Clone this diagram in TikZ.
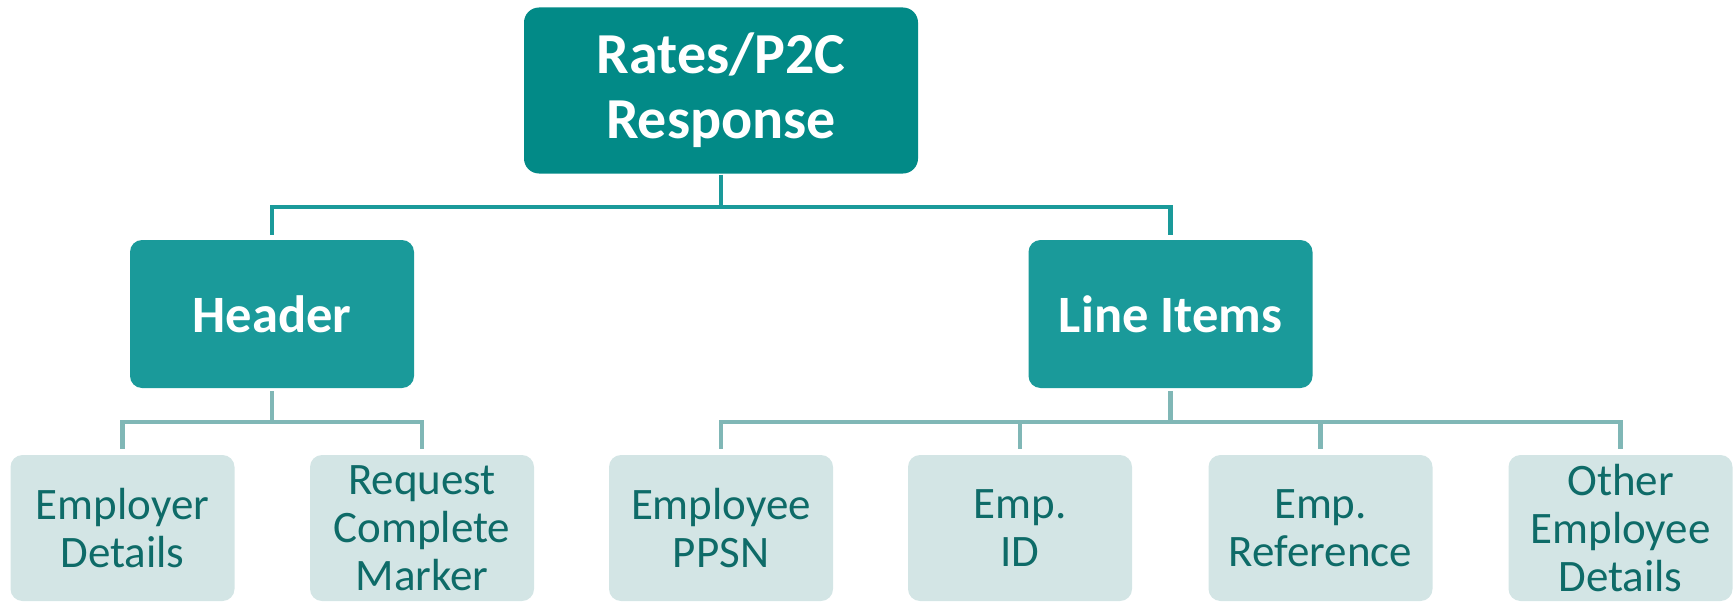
\documentclass[tikz,border=0pt]{standalone}
\usepackage{fontspec}
\setmainfont{Carlito}
\definecolor{topfill}{HTML}{028A87}
\definecolor{midfill}{HTML}{1A9A9A}
\definecolor{lowfill}{HTML}{D3E5E5}
\definecolor{lowtext}{HTML}{0E6B68}
\definecolor{lowline}{HTML}{80B7B6}
\tikzset{
  topbox/.style={rectangle, rounded corners=15pt, fill=topfill, text=white, align=center,
    minimum width=394pt, minimum height=166pt, inner sep=0pt,
    font=\fontsize{58}{65}\selectfont\bfseries},
  midbox/.style={rectangle, rounded corners=12pt, fill=midfill, text=white, align=center,
    minimum width=284pt, minimum height=148pt, inner sep=0pt,
    font=\fontsize{52.5}{60}\selectfont\bfseries},
  lowbox/.style={rectangle, rounded corners=12pt, fill=lowfill, text=lowtext, align=center,
    minimum width=224pt, minimum height=146pt, inner sep=0pt,
    font=\fontsize{45}{48}\selectfont},
  topconn/.style={draw=midfill, line width=4.5pt},
  lowconn/.style={draw=lowline, line width=4.5pt}
}
\begin{document}
\begin{tikzpicture}[x=1pt,y=-1pt]
\useasboundingbox (0,0) rectangle (1735,602);
\node[topbox] (top) at (721,90.5) {Rates/P2C\\Response};
\node[midbox] (hdr) at (272,314) {Header};
\node[midbox] (li) at (1170.5,314) {Line Items};
\node[lowbox] (b1) at (122.5,528) {Employer\\Details};
\node[lowbox] (b2) at (422,528) {Request\\Complete\\Marker};
\node[lowbox] (b3) at (721,528) {Employee\\PPSN};
\node[lowbox] (b4) at (1020,528) {Emp.\\ID};
\node[lowbox] (b5) at (1320.5,528) {Emp.\\Reference};
\node[lowbox] (b6) at (1620.5,528) {Other\\Employee\\Details};
\coordinate (tb) at (721,207);
\coordinate (hb) at (272,422);
\coordinate (lb) at (1170.5,422);
\draw[topconn] ([yshift=-1pt]top.south) -- (tb);
\draw[topconn] ([yshift=5pt]hdr.north) |- (tb) -| ([yshift=5pt]li.north);
\draw[lowconn] ([yshift=-3pt]hdr.south) -- (hb);
\draw[lowconn] ([yshift=6pt]b1.north) |- (hb) -| ([yshift=6pt]b2.north);
\draw[lowconn] ([yshift=-3pt]li.south) -- (lb);
\draw[lowconn] ([yshift=6pt]b3.north) |- (lb) -| ([yshift=6pt]b6.north);
\draw[lowconn] ([yshift=6pt]b4.north) -- (b4.north |- lb);
\draw[lowconn] ([yshift=6pt]b5.north) -- (b5.north |- lb);
\end{tikzpicture}
\end{document}
